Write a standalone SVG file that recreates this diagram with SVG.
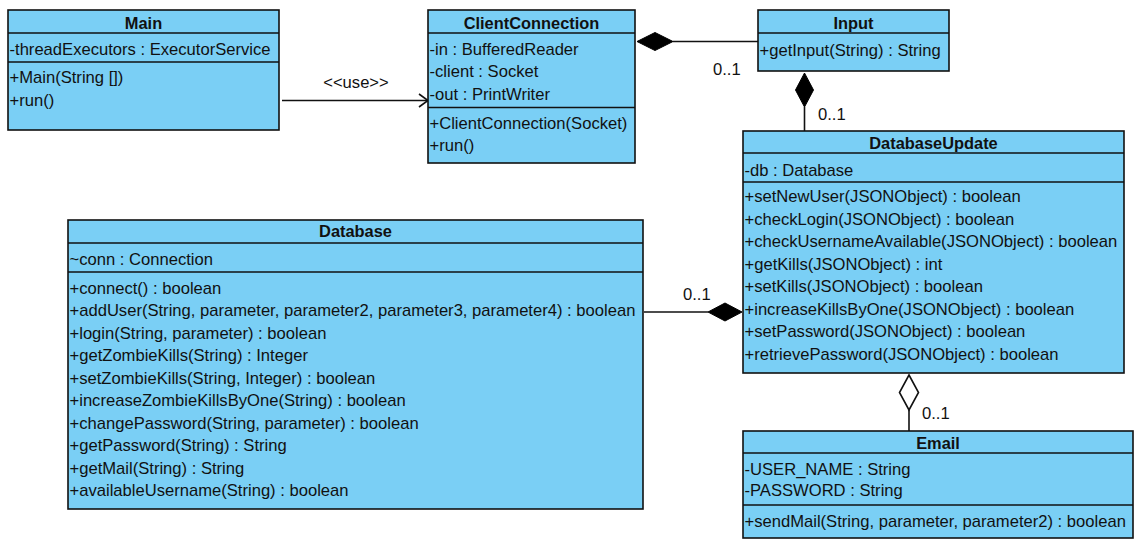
<svg xmlns="http://www.w3.org/2000/svg" width="1142" height="550" viewBox="0 0 1142 550">
<style>
.box{fill:#7ACFF5;stroke:#111;stroke-width:1.6}
.sep{stroke:#111;stroke-width:1.6}
.t{font-family:"Liberation Sans",Arial,sans-serif;font-size:16.6px;fill:#111}
.h{font-family:"Liberation Sans",Arial,sans-serif;font-size:16.4px;font-weight:bold;fill:#111;text-anchor:middle}
.ln{stroke:#111;stroke-width:1.6;fill:none}
.fd{fill:#000;stroke:#000;stroke-width:1}
.od{fill:#fff;stroke:#111;stroke-width:1.6}
</style>
<rect width="1142" height="550" fill="#fff"/>
<g id="connectors">
<line class="ln" x1="282" y1="100.5" x2="427" y2="100.5"/>
<polyline class="ln" points="419,94 428,100.5 419,107"/>
<text class="t" x="356" y="88" text-anchor="middle">&lt;&lt;use&gt;&gt;</text>
<line class="ln" x1="673" y1="41.5" x2="758" y2="41.5"/>
<polygon class="fd" points="637,41.5 655,32.5 673,41.5 655,50.5"/>
<text class="t" x="713" y="75">0..1</text>
<line class="ln" x1="804.5" y1="107" x2="804.5" y2="131"/>
<polygon class="fd" points="804.5,73 813.5,90 804.5,107 795.5,90"/>
<text class="t" x="818" y="120">0..1</text>
<line class="ln" x1="644" y1="312" x2="708" y2="312"/>
<polygon class="fd" points="742,312 725,303 708,312 725,321"/>
<text class="t" x="683" y="300">0..1</text>
<line class="ln" x1="909" y1="410" x2="909" y2="431"/>
<polygon class="od" points="909,375 918.5,392.5 909,410 899.5,392.5"/>
<text class="t" x="922" y="419">0..1</text>
</g>
<g id="Main">
<rect class="box" x="8" y="10" width="271" height="120"/>
<line class="sep" x1="8" y1="33" x2="279" y2="33"/>
<line class="sep" x1="8" y1="62" x2="279" y2="62"/>
<text class="h" x="143.5" y="28.5">Main</text>
<text class="t" x="9.5" y="54.5">-threadExecutors : ExecutorService</text>
<text class="t" x="9.5" y="83">+Main(String [])</text>
<text class="t" x="9.5" y="105.5">+run()</text>
</g>
<g id="ClientConnection">
<rect class="box" x="428" y="10" width="207" height="153"/>
<line class="sep" x1="428" y1="33" x2="635" y2="33"/>
<line class="sep" x1="428" y1="107.5" x2="635" y2="107.5"/>
<text class="h" x="531.5" y="28.5">ClientConnection</text>
<text class="t" x="429.5" y="54.5">-in : BufferedReader</text>
<text class="t" x="429.5" y="77">-client : Socket</text>
<text class="t" x="429.5" y="99.5">-out : PrintWriter</text>
<text class="t" x="429.5" y="128.5">+ClientConnection(Socket)</text>
<text class="t" x="429.5" y="151">+run()</text>
</g>
<g id="Input">
<rect class="box" x="758" y="10" width="191" height="61"/>
<line class="sep" x1="758" y1="33" x2="949" y2="33"/>
<text class="h" x="853.5" y="28.5">Input</text>
<text class="t" x="759.5" y="55.5">+getInput(String) : String</text>
</g>
<g id="DatabaseUpdate">
<rect class="box" x="743" y="131" width="381" height="242"/>
<line class="sep" x1="743" y1="153" x2="1124" y2="153"/>
<line class="sep" x1="743" y1="182" x2="1124" y2="182"/>
<text class="h" x="933.5" y="149">DatabaseUpdate</text>
<text class="t" x="744.5" y="175.5">-db : Database</text>
<text class="t" x="744.5" y="202">+setNewUser(JSONObject) : boolean</text>
<text class="t" x="744.5" y="224.5">+checkLogin(JSONObject) : boolean</text>
<text class="t" x="744.5" y="247">+checkUsernameAvailable(JSONObject) : boolean</text>
<text class="t" x="744.5" y="269.5">+getKills(JSONObject) : int</text>
<text class="t" x="744.5" y="292">+setKills(JSONObject) : boolean</text>
<text class="t" x="744.5" y="314.5">+increaseKillsByOne(JSONObject) : boolean</text>
<text class="t" x="744.5" y="337">+setPassword(JSONObject) : boolean</text>
<text class="t" x="744.5" y="359.5">+retrievePassword(JSONObject) : boolean</text>
</g>
<g id="Database">
<rect class="box" x="68" y="220" width="575" height="289"/>
<line class="sep" x1="68" y1="243" x2="643" y2="243"/>
<line class="sep" x1="68" y1="272" x2="643" y2="272"/>
<text class="h" x="355.5" y="237">Database</text>
<text class="t" x="69.5" y="264.5">~conn : Connection</text>
<text class="t" x="69.5" y="293.5">+connect() : boolean</text>
<text class="t" x="69.5" y="316">+addUser(String, parameter, parameter2, parameter3, parameter4) : boolean</text>
<text class="t" x="69.5" y="338.5">+login(String, parameter) : boolean</text>
<text class="t" x="69.5" y="361">+getZombieKills(String) : Integer</text>
<text class="t" x="69.5" y="383.5">+setZombieKills(String, Integer) : boolean</text>
<text class="t" x="69.5" y="406">+increaseZombieKillsByOne(String) : boolean</text>
<text class="t" x="69.5" y="428.5">+changePassword(String, parameter) : boolean</text>
<text class="t" x="69.5" y="451">+getPassword(String) : String</text>
<text class="t" x="69.5" y="473.5">+getMail(String) : String</text>
<text class="t" x="69.5" y="496">+availableUsername(String) : boolean</text>
</g>
<g id="Email">
<rect class="box" x="743" y="431" width="390" height="107"/>
<line class="sep" x1="743" y1="453" x2="1133" y2="453"/>
<line class="sep" x1="743" y1="505" x2="1133" y2="505"/>
<text class="h" x="938" y="448.5">Email</text>
<text class="t" x="744.5" y="474.5">-USER_NAME : String</text>
<text class="t" x="744.5" y="496">-PASSWORD : String</text>
<text class="t" x="744.5" y="527">+sendMail(String, parameter, parameter2) : boolean</text>
</g>
</svg>
